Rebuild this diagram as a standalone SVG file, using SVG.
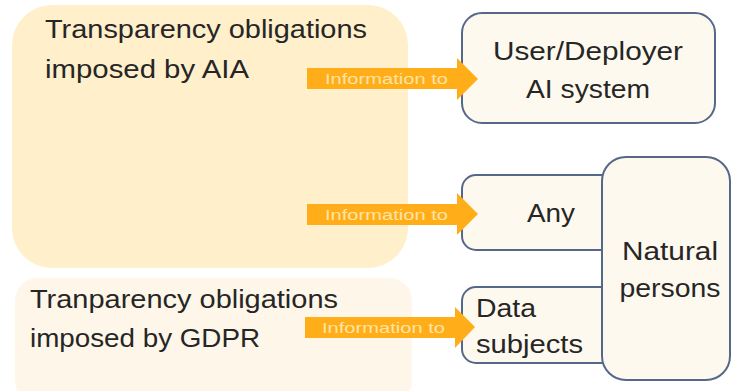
<svg xmlns="http://www.w3.org/2000/svg" width="731" height="391" viewBox="0 0 731 391">
<style>
.big{font-family:"Liberation Sans","Open Sans",sans-serif;font-size:25px;fill:#262626}
.lbl{font-family:"Liberation Sans","Open Sans",sans-serif;font-size:15px;fill:#FFE4A6}
.box{fill:#FEF9EE;stroke:#56688A;stroke-width:2}
.arr{fill:#FFAE1A}
</style>
<rect width="731" height="391" fill="#ffffff"/>
<g id="aia">
<rect x="12" y="5" width="396" height="263" rx="40" fill="#FFEFCB"/>
<text class="big" x="45" y="38" textLength="322" lengthAdjust="spacingAndGlyphs">Transparency obligations</text>
<text class="big" x="45" y="78" textLength="204" lengthAdjust="spacingAndGlyphs">imposed by AIA</text>
</g>
<g id="gdpr">
<rect x="15" y="278" width="397" height="125" rx="22" fill="#FEF7E9"/>
<text class="big" x="30" y="308" textLength="308" lengthAdjust="spacingAndGlyphs">Tranparency obligations</text>
<text class="big" x="30" y="347" textLength="230" lengthAdjust="spacingAndGlyphs">imposed by GDPR</text>
</g>
<g id="user">
<rect class="box" x="462" y="13" width="253" height="110" rx="20"/>
<text class="big" x="588" y="60" text-anchor="middle" textLength="190" lengthAdjust="spacingAndGlyphs">User/Deployer</text>
<text class="big" x="588" y="98" text-anchor="middle" textLength="124" lengthAdjust="spacingAndGlyphs">AI system</text>
</g>
<g id="any">
<rect class="box" x="462" y="175" width="170" height="75" rx="14"/>
<text class="big" x="527" y="222" textLength="48" lengthAdjust="spacingAndGlyphs">Any</text>
</g>
<g id="data">
<rect class="box" x="462" y="287" width="170" height="76" rx="14"/>
<text class="big" x="476" y="317" textLength="60" lengthAdjust="spacingAndGlyphs">Data</text>
<text class="big" x="476" y="353" textLength="107" lengthAdjust="spacingAndGlyphs">subjects</text>
</g>
<g id="natural">
<rect class="box" x="602" y="157" width="128" height="223" rx="24"/>
<text class="big" x="670" y="260" text-anchor="middle" textLength="96" lengthAdjust="spacingAndGlyphs">Natural</text>
<text class="big" x="670" y="297" text-anchor="middle" textLength="101" lengthAdjust="spacingAndGlyphs">persons</text>
</g>
<g id="connectors">
<g id="arrow1">
<path class="arr" d="M307 68 H457 V58 L478 79 L457 100 V89 H307 Z"/>
<text class="lbl" x="325" y="84" textLength="123" lengthAdjust="spacingAndGlyphs">Information to</text>
</g>
<g id="arrow2">
<path class="arr" d="M307 204 H457 V193 L478 214 L457 235 V225 H307 Z"/>
<text class="lbl" x="325" y="220" textLength="123" lengthAdjust="spacingAndGlyphs">Information to</text>
</g>
<g id="arrow3">
<path class="arr" d="M305 317 H455 V307 L475 327 L455 348 V338 H305 Z"/>
<text class="lbl" x="322" y="333" textLength="123" lengthAdjust="spacingAndGlyphs">Information to</text>
</g>
</g>
</svg>
